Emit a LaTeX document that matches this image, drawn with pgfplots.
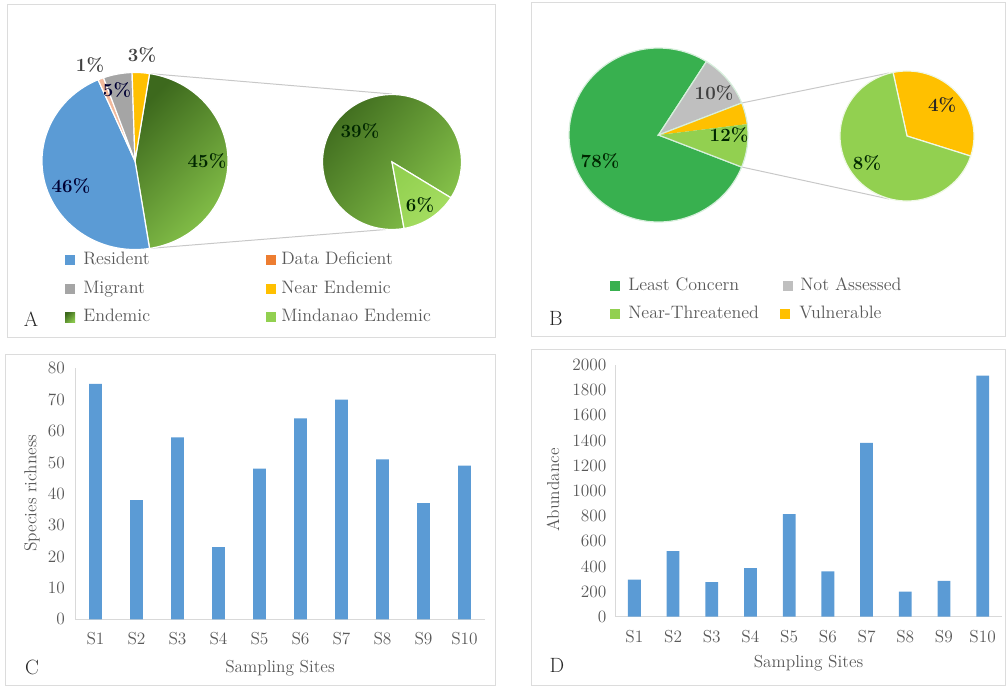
\documentclass[border=0pt]{standalone}
\usepackage{fontspec}
\usepackage{pgfplots}
\pgfplotsset{compat=1.18}

% palette
\definecolor{cRes}{HTML}{5B9BD5}
\definecolor{cDD}{HTML}{F2B99C}
\definecolor{cDDkey}{HTML}{ED7D31}
\definecolor{cMig}{HTML}{A5A5A5}
\definecolor{cNear}{HTML}{FFC000}
\definecolor{cEndD}{HTML}{3D691D}
\definecolor{cEndL}{HTML}{88C54B}
\definecolor{cMin}{HTML}{92D050}
\definecolor{cMinL}{HTML}{A6DE62}
\definecolor{cLC}{HTML}{38B04F}
\definecolor{cNA}{HTML}{BFBFBF}
\definecolor{cNT}{HTML}{92D050}
\definecolor{cVU}{HTML}{FFC000}
\definecolor{barblue}{HTML}{5B9BD5}
\definecolor{txt}{HTML}{595959}
\definecolor{framegray}{HTML}{DCDCDC}
\definecolor{linkgray}{HTML}{C8C8C8}

% one pie slice: style, centre (axis cs), x radius, y radius, start angle, end angle
\newcommand\slice[6]{%
  \path[#1] (axis cs:#2) -- ++({#5}:#3 and #4)
    arc[start angle={#5}, end angle={#6}, x radius=#3, y radius=#4] -- cycle;}

\newcommand\legfont{\fontsize{13.5}{16}\selectfont}
\newcommand\pctfont{\bfseries\fontsize{14}{16}\selectfont}
\newcommand\axfont{\fontsize{13}{15}\selectfont}

\pgfplotsset{
  sitebars/.style={
    scale only axis, ybar, bar width=9.6pt,
    xmin=0.5, xmax=10.5, ymin=0,
    xtick={1,...,10},
    xticklabels={S1,S2,S3,S4,S5,S6,S7,S8,S9,S10},
    major tick length=0pt,
    axis x line=bottom, axis y line=left,
    axis line style={-, draw=black!15, line width=0.75pt},
    tick label style={font=\axfont, text=txt},
    /pgf/number format/assume math mode=true,
    /pgf/number format/1000 sep={},
    xticklabel style={yshift=-6.5pt},
    clip=false,
  },
}
\tikzset{
  legkey/.style={minimum size=7.5pt, inner sep=0pt},
  legtext/.style={anchor=west, inner sep=0pt, text=txt, font=\legfont, text height=0.7em, text depth=0pt},
  pct/.style={inner sep=0pt, font=\pctfont, text height=0.7em, text depth=0pt},
  panel/.style={inner sep=0pt, font=\fontsize{15.5}{18}\selectfont, text=black!85, text height=0.7em, text depth=0pt},
  axlab/.style={font=\axfont, text=txt, anchor=center, inner sep=0pt},
}

\begin{document}
\begin{tikzpicture}[x=0.75pt,y=0.75pt]
\path[use as bounding box] (0,0) rectangle (1007,686);

% panel frames
\begin{scope}[draw=framegray, line width=0.75pt]
  \draw (7,{686-5})   rectangle (495,{686-338});
  \draw (531,{686-3}) rectangle (1005,{686-337});
  \draw (5,{686-355}) rectangle (495,{686-685});
  \draw (531,{686-350}) rectangle (1005,{686-685});
\end{scope}

% C: species richness per site
\begin{axis}[sitebars,
  at={(56.25pt,50.03pt)}, anchor=south west,
  width=307.5pt, height=188.25pt,
  ymax=80, ytick={0,10,...,80},
  yticklabel style={xshift=-4pt},
  xlabel={Sampling Sites}, ylabel={Species richness},
  every axis x label/.style={at={(axis description cs:0.5,-0.194)}, axlab},
  every axis y label/.style={at={(axis description cs:-0.105,0.503)}, axlab, rotate=90},
]
\addplot[fill=barblue, draw=none] coordinates {
  (1,75) (2,38) (3,58) (4,23) (5,48) (6,64) (7,70) (8,51) (9,37) (10,49)};
\end{axis}

% D: abundance per site
\begin{axis}[sitebars,
  at={(461.25pt,51.98pt)}, anchor=south west,
  width=290.25pt, height=188.8pt,
  ymax=2000, ytick={0,200,...,2000},
  yticklabel style={xshift=-3pt},
  xlabel={Sampling Sites}, ylabel={Abundance},
  every axis x label/.style={at={(axis description cs:0.5,-0.184)}, axlab},
  every axis y label/.style={at={(axis description cs:-0.16,0.503)}, axlab, rotate=90},
]
\addplot[fill=barblue, draw=none] coordinates {
  (1,295) (2,520) (3,275) (4,385) (5,815) (6,360) (7,1380) (8,200) (9,285) (10,1915)};
\end{axis}

% A and B: pie-of-pie charts, laid out in pixel units
\begin{axis}[
  at={(0pt,0pt)}, anchor=south west, scale only axis, hide axis, clip=false,
  width=755.25pt, height=514.5pt,
  xmin=0, xmax=1007, ymin=0, ymax=686, y dir=reverse,
]
% --- A: residency status (percent of species) ---
\draw[linkgray, line width=0.75pt] (axis cs:149.5,73.6) -- (axis cs:392,94);
\draw[linkgray, line width=0.75pt] (axis cs:149.5,248.4) -- (axis cs:392,229);
% Endemic 45
\slice{top color=cEndD, bottom color=cEndL, shading angle=45, draw=white, line width=0.9pt}{135,161}{69.75pt}{66.4pt}{81}{81-3.6*45}
% Resident 46
\slice{fill=cRes, draw=white, line width=0.9pt}{135,161}{69.75pt}{66.4pt}{-81}{-81-3.6*46}
% Data Deficient 1
\slice{fill=cDD, draw=white, line width=0.9pt}{135,161}{69.75pt}{66.4pt}{-246.6}{-246.6-3.6*1}
% Migrant 5
\slice{fill=cMig, draw=white, line width=0.9pt}{135,161}{69.75pt}{66.4pt}{-250.2}{-250.2-3.6*5}
% Near Endemic 3
\slice{fill=cNear, draw=white, line width=0.9pt}{135,161}{69.75pt}{66.4pt}{-268.2}{-268.2-3.6*3}
% secondary pie: Endemic 39, Mindanao Endemic 6 (of 45)
\slice{top color=cEndD, bottom color=cEndL, shading angle=50, draw=white, line width=0.9pt}{392,162}{52.1pt}{50.6pt}{-32}{-32+360*39/45}
\slice{top color=cMin, bottom color=cMinL, shading angle=45, draw=white, line width=0.9pt}{392,162}{52.1pt}{50.6pt}{-80}{-80+360*6/45}

\node[pct, text=black!75] at (axis cs:90,67) {1\%};
\node[pct, text=black!80!blue] at (axis cs:117,92) {5\%};
\node[pct, text=black!75] at (axis cs:142,57) {3\%};
\node[pct, text=black!80!blue] at (axis cs:71,188) {46\%};
\node[pct, text=black!85!green] at (axis cs:207,163) {45\%};
\node[pct, text=black!85!green] at (axis cs:360,133) {39\%};
\node[pct, text=black!85!green] at (axis cs:420,207) {6\%};

\node[legkey, fill=cRes] at (axis cs:70,260) {};
\node[legtext] at (axis cs:83,260) {Resident};
\node[legkey, fill=cDDkey] at (axis cs:271,260) {};
\node[legtext] at (axis cs:281,260) {Data Deficient};
\node[legkey, fill=cMig] at (axis cs:70,289) {};
\node[legtext] at (axis cs:83,289) {Migrant};
\node[legkey, fill=cNear] at (axis cs:271,289) {};
\node[legtext] at (axis cs:281,289) {Near Endemic};
\node[legkey, top color=cEndD, bottom color=cEndL, shading angle=45] at (axis cs:70,317) {};
\node[legtext] at (axis cs:83,317) {Endemic};
\node[legkey, fill=cMin] at (axis cs:271,317) {};
\node[legtext] at (axis cs:281,317) {Mindanao Endemic};
\node[panel] at (axis cs:31,322) {A};

% --- B: conservation status (percent of species) ---
\draw[linkgray, line width=0.75pt] (axis cs:741.7,103) -- (axis cs:889,73);
\draw[linkgray, line width=0.75pt] (axis cs:741.7,167) -- (axis cs:889,199);
% Least Concern 78
\slice{fill=cLC, draw=white!80!cLC, line width=0.9pt}{658.5,135}{67.1pt}{65.25pt}{-21.6}{-21.6-3.6*78}
% Not Assessed 10
\slice{fill=cNA, draw=white!80!cLC, line width=0.9pt}{658.5,135}{67.1pt}{65.25pt}{57.6}{57.6-3.6*10}
% Vulnerable 4 and Near-Threatened 8 (together 12)
\slice{fill=cVU, draw=none}{658.5,135}{67.1pt}{65.25pt}{21.6}{21.6-3.6*4}
\slice{fill=cNT, draw=none}{658.5,135}{67.1pt}{65.25pt}{7.2}{7.2-3.6*8}
\slice{draw=white!80!cLC, line width=0.9pt}{658.5,135}{67.1pt}{65.25pt}{21.6}{21.6-3.6*12}
% secondary pie
\slice{fill=cVU, draw=white!85!cNT, line width=0.9pt}{907,136}{50.25pt}{48.75pt}{102}{102-360*4/12}
\slice{fill=cNT, draw=white!85!cNT, line width=0.9pt}{907,136}{50.25pt}{48.75pt}{-18}{-18-360*8/12}

\node[pct, text=black!75] at (axis cs:714,95) {10\%};
\node[pct, text=black!85!green] at (axis cs:729,137) {12\%};
\node[pct, text=black!85!green] at (axis cs:600,163) {78\%};
\node[pct, text=black!85] at (axis cs:942,107) {4\%};
\node[pct, text=black!85!green] at (axis cs:867,165) {8\%};

\node[legkey, fill=cLC] at (axis cs:615,286) {};
\node[legtext] at (axis cs:628,286) {Least Concern};
\node[legkey, fill=cNA] at (axis cs:788,286) {};
\node[legtext] at (axis cs:800,286) {Not Assessed};
\node[legkey, fill=cNT] at (axis cs:615,314) {};
\node[legtext] at (axis cs:628,314) {Near-Threatened};
\node[legkey, fill=cVU] at (axis cs:785,314) {};
\node[legtext] at (axis cs:799,314) {Vulnerable};
\node[panel] at (axis cs:556,321) {B};

\node[panel] at (axis cs:32,670) {C};
\node[panel] at (axis cs:557,668) {D};
\end{axis}
\end{tikzpicture}
\end{document}
